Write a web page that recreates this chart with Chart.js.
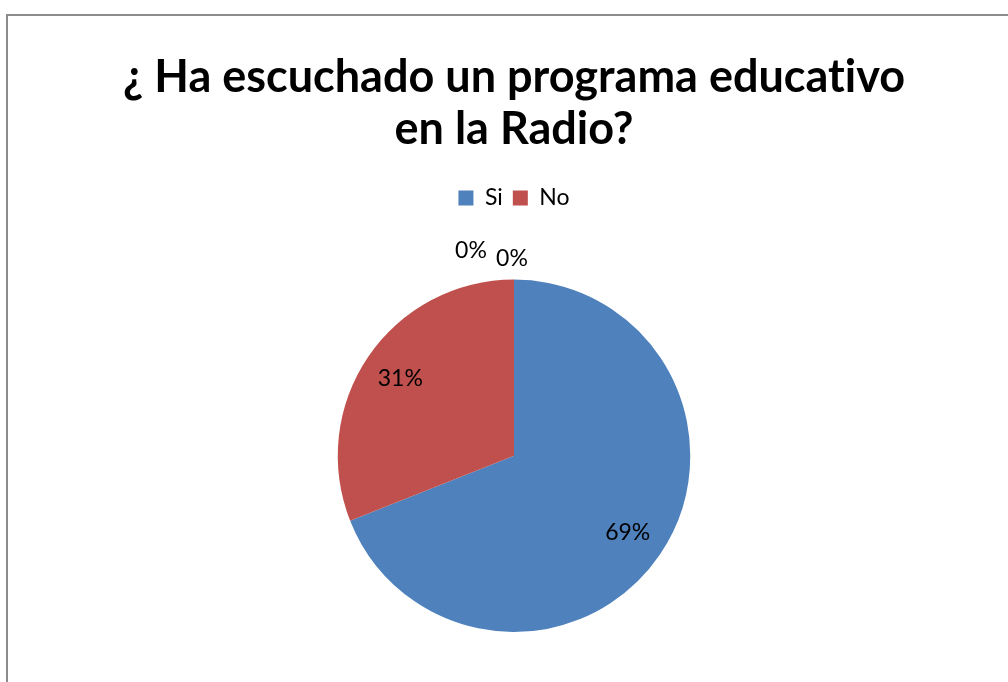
<!DOCTYPE html>
<html>
<head>
<meta charset="utf-8">
<script src="https://cdn.jsdelivr.net/npm/chart.js@4/dist/chart.umd.min.js"></script>
<style>
  html, body { margin: 0; padding: 0; background: #fff; }
  #wrap { position: relative; width: 1008px; height: 682px; overflow: hidden; }
  #frame { position: absolute; left: 6px; top: 14px; width: 1100px; height: 800px;
           border-left: 2px solid #8c8c8c; border-top: 2px solid #8c8c8c; }
  canvas { position: absolute; left: 0; top: 0; }
</style>
</head>
<body>
<div id="wrap">
  <div id="frame"></div>
  <canvas id="canvas" width="1008" height="682"></canvas>
</div>
<script>
// categorías y valores (porcentajes)
const labels = ['Si', 'No', '', ''];
const values = [69, 31, 0, 0];
const colors = ['#4F81BD', '#C0504D', '#9BBB59', '#8064A2'];

// etiquetas de porcentaje sobre cada sector
const pctLabels = {
  id: 'pctLabels',
  afterDatasetsDraw(chart) {
    const ctx = chart.ctx;
    const meta = chart.getDatasetMeta(0);
    ctx.save();
    ctx.font = '23px Lato';
    ctx.fillStyle = '#000';
    ctx.textAlign = 'center';
    ctx.textBaseline = 'middle';
    let zeroCount = 0;
    meta.data.forEach((arc, i) => {
      const v = values[i];
      const mid = (arc.startAngle + arc.endAngle) / 2;
      let x, y;
      if (v > 0) {
        const r = arc.outerRadius * 0.78;
        x = arc.x + Math.cos(mid) * r;
        y = arc.y + Math.sin(mid) * r;
      } else {
        // sectores vacíos: etiqueta fuera del círculo
        const r = arc.outerRadius + 22;
        x = arc.x + Math.cos(mid) * r - 43 + zeroCount * 41;
        y = arc.y + Math.sin(mid) * r - 7 + zeroCount * 8;
        zeroCount++;
      }
      ctx.fillText(v + '%', x, y);
    });
    ctx.restore();
  }
};

// espacio extra debajo de la leyenda
const legendGap = {
  id: 'legendGap',
  beforeInit(chart) {
    const fit = chart.legend.fit;
    chart.legend.fit = function () {
      fit.bind(chart.legend)();
      this.height += 60;
    };
  }
};

const data = {
  labels: labels,
  datasets: [{
    data: values,
    backgroundColor: colors,
    borderWidth: 0
  }]
};

const config = {
  type: 'pie',
  data: data,
  options: {
    responsive: false,
    animation: false,
    layout: { padding: { top: 0, bottom: 50, left: 20, right: 0 } },
    plugins: {
      title: {
        display: true,
        text: ['¿ Ha escuchado un programa educat\u200Civo', 'en la Radio?'],
        color: '#000',
        font: { family: 'Lato', size: 45, weight: 'bold', lineHeight: 1.15 },
        padding: { top: 52, bottom: 21 }
      },
      legend: {
        position: 'top',
        labels: {
          color: '#000',
          font: { family: 'Lato', size: 23 },
          boxWidth: 15,
          boxHeight: 15,
          padding: 10,
          filter: item => item.text !== ''
        }
      },
      tooltip: { enabled: false }
    }
  },
  plugins: [pctLabels, legendGap]
};

const canvas = document.getElementById('canvas');
const chart = new Chart(canvas, config);
</script>
</body>
</html>
